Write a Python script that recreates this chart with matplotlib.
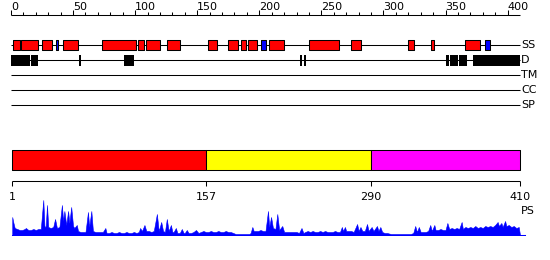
import matplotlib
matplotlib.use("Agg")
import matplotlib.pyplot as plt

# ---------------- data ----------------
seq_len = 410
ruler_major = [0, 50, 100, 150, 200, 250, 300, 350, 400]
ruler_minor = list(range(0, 401, 10))

helix_start = [2, 8, 25, 42, 73, 102, 109, 126, 159, 175, 185, 191, 208, 240, 274, 320, 338, 366]
helix_end   = [7, 22, 33, 54, 101, 107, 120, 136, 166, 183, 189, 198, 220, 264, 282, 325, 341, 378]
strand_start = [36, 201, 382]
strand_end   = [38, 205, 386]

dis_start = [0, 16, 55, 91, 233, 236, 350, 354, 361, 372]
dis_end   = [15, 22, 56, 99, 234.5, 238, 353, 360, 367, 410]

track_names = ["SS", "D", "TM", "CC", "SP"]

domain_start = [1, 157, 290]
domain_end = [157, 290, 410]
domain_colors = ["#ff0000", "#ffff00", "#ff00ff"]
domain_ticks = [1, 157, 290, 410]

ps_res = [1, 2, 3, 5, 7, 9, 11, 12, 14, 16, 18, 20, 22, 24, 26, 27, 28, 29, 30, 32,
          34, 35.5, 37, 39, 41, 42, 43, 44.5, 46, 47, 48.5, 50, 51, 53, 54, 56, 58, 60, 62, 63,
          64.7, 66, 68, 70, 72, 74, 76, 77, 79, 81, 83, 85, 87, 89, 91, 93, 95, 97, 99, 101,
          103, 104, 105.5, 107.5, 109, 111, 113, 115, 117.5, 119, 121, 122.5, 124, 125.5, 127, 128.8, 130, 131, 132.8, 134,
          136, 137.6, 139, 140, 141.6, 143, 145, 147, 149, 151, 153, 155, 157, 159, 161, 163, 165, 167, 169, 171,
          173, 175, 177, 179, 181, 185, 189, 192, 193, 194.4, 195.5, 197, 199, 201, 203, 205, 207, 208, 209.5, 211,
          213, 214.5, 216, 218.5, 220, 222, 224, 226, 228, 230, 232, 234, 235.5, 237, 239, 241, 243, 245, 247, 249,
          251, 253, 255, 257, 259, 261, 263, 265, 266.5, 267.5, 269, 270, 272, 274, 276, 278.8, 280, 281.5, 283, 285,
          286.8, 288, 290.5, 292, 294.8, 296, 297.5, 299, 301, 303, 306, 310, 314, 318, 322, 324, 325.6, 327, 328.5, 330,
          332, 334, 336, 337.7, 339, 341, 342, 344, 346, 348, 350, 351.5, 353, 355, 357, 359, 361, 363, 364, 366,
          368, 370, 372, 374, 376, 378, 380, 382, 384, 386, 388, 390, 392, 393, 395, 396, 398, 399, 401, 403,
          405, 407, 409, 410]
ps_val = [18, 12, 7, 6, 5, 5, 6, 7, 5, 5, 6, 5, 6, 6, 35, 8, 9, 30, 8, 7,
          8, 16, 7, 8, 30, 14, 24, 10, 24, 12, 28, 9, 7, 10, 4, 3, 3, 3, 23, 8,
          24, 4, 3, 3, 3, 3, 7, 2, 2, 3, 2, 2, 3, 2, 2, 3, 2, 2, 3, 2,
          3, 7, 4, 10, 4, 4, 3, 4, 21, 4, 13, 4, 3, 16, 4, 10, 3, 3, 7, 2,
          2, 6, 2, 2, 5, 2, 2, 3, 5, 2, 3, 4, 3, 3, 4, 3, 3, 4, 3, 3,
          4, 3, 3, 2, 1, 1, 1, 1, 2, 8, 4, 4, 4, 5, 4, 4, 24, 8, 18, 7,
          6, 21, 5, 9, 3, 3, 3, 3, 3, 3, 2, 7, 2, 3, 4, 3, 4, 3, 3, 4,
          3, 4, 3, 3, 3, 4, 3, 3, 8, 4, 8, 4, 4, 4, 3, 11, 4, 8, 4, 4,
          11, 4, 8, 4, 9, 4, 8, 3, 2, 2, 1, 1, 1, 1, 1, 2, 9, 3, 8, 3,
          3, 3, 4, 10, 4, 10, 5, 5, 6, 5, 5, 12, 6, 7, 6, 7, 6, 13, 6, 8,
          7, 8, 7, 9, 7, 8, 7, 9, 8, 9, 8, 10, 13, 9, 12, 8, 14, 9, 10, 8,
          9, 7, 8, 0]

# ---------------- layout ----------------
W, H = 550, 260
px_left, px_right = 11, 520
scale = (px_right - px_left) / seq_len

fig = plt.figure(figsize=(W / 100, H / 100), dpi=100)
ax = fig.add_axes([0, 0, 1, 1])
ax.set_xlim(-px_left / scale, (W - px_left) / scale)
ax.set_ylim(H, 0)
ax.axis("off")

lw = 0.75
fs = 8
label_x = 411

# top ruler
ruler_y = 15
ax.plot([0, seq_len], [ruler_y, ruler_y], color="black", lw=lw, solid_capstyle="butt")
for t in ruler_minor:
    top = ruler_y - (5 if t in ruler_major else 3)
    ax.plot([t, t], [ruler_y, top], color="black", lw=lw, solid_capstyle="butt")
for t in ruler_major:
    ax.text(t, 10.5, str(t), ha="left", va="baseline", fontsize=fs)

# tracks
track_y = [45, 60, 75, 90, 105]
for name, y in zip(track_names, track_y):
    ax.plot([0, seq_len], [y, y], color="black", lw=lw, solid_capstyle="butt", zorder=1)
    ax.text(label_x, y, name, ha="left", va="center", fontsize=fs)

ss_y = track_y[0]
ax.broken_barh([(s, e - s) for s, e in zip(helix_start, helix_end)], (ss_y - 5, 10),
               facecolors="#ff0000", edgecolors="black", linewidth=lw, zorder=2)
ax.broken_barh([(s, e - s) for s, e in zip(strand_start, strand_end)], (ss_y - 5, 10),
               facecolors="#0000ff", edgecolors="black", linewidth=lw, zorder=2)

d_y = track_y[1]
ax.broken_barh([(s, e - s) for s, e in zip(dis_start, dis_end)], (d_y - 5.5, 11),
               facecolors="black", edgecolors="none", linewidth=0, zorder=2)

# domain bar
for s, e, c in zip(domain_start, domain_end, domain_colors):
    ax.broken_barh([(s, e - s)], (150, 20), facecolors=c, edgecolors="black", linewidth=lw, zorder=2)

# bottom ruler
by = 180.5
ax.plot([domain_ticks[0], domain_ticks[-1]], [by, by], color="black", lw=lw, solid_capstyle="butt")
for t in domain_ticks:
    ax.plot([t, t], [by, by + 5], color="black", lw=lw, solid_capstyle="butt")
    ax.text(t, 200, str(t), ha="center", va="baseline", fontsize=fs)

ax.text(label_x, 211, "PS", ha="left", va="center", fontsize=fs)

# PS profile
ax2 = fig.add_axes([0, (H - 236) / H, 1, 41 / H])
ax2.set_xlim(ax.get_xlim())
ax2.set_ylim(-1, 40)
ax2.axis("off")
ax2.fill_between(ps_res, 0, ps_val, color="#0000ff", lw=0.4)
ax2.plot([1, 414], [0, 0], color="#0000ff", lw=lw)

fig.savefig("out.png", dpi=100)
